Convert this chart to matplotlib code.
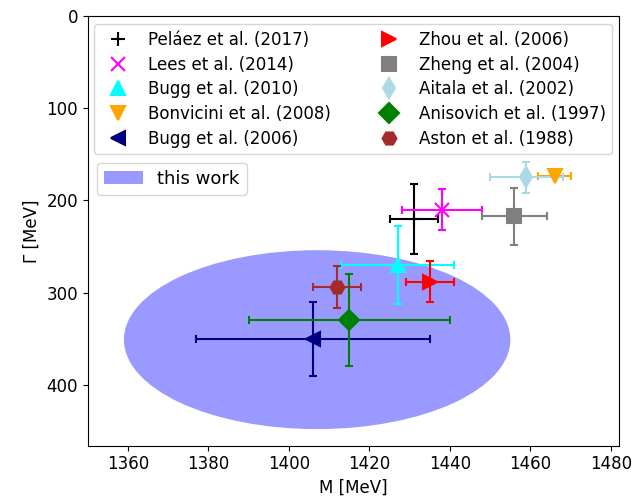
import matplotlib
matplotlib.use("Agg")
import matplotlib.pyplot as plt
from matplotlib.patches import Ellipse, Patch
from matplotlib.lines import Line2D

labels = ["Peláez et al. (2017)", "Lees et al. (2014)", "Bugg et al. (2010)",
          "Bonvicini et al. (2008)", "Bugg et al. (2006)", "Zhou et al. (2006)",
          "Zheng et al. (2004)", "Aitala et al. (2002)", "Anisovich et al. (1997)",
          "Aston et al. (1988)"]
mass = [1431, 1438, 1427, 1466, 1406, 1435, 1456, 1459, 1415, 1412]
mass_err = [6, 10, 14, 4, 29, 6, 8, 9, 25, 6]
width = [220, 210, 270, 174, 350, 288, 217, 175, 330, 294]
width_err = [38, 22, 42, 0, 40, 22, 31, 17, 50, 23]
markers = ["+", "x", "^", "v", "<", ">", "s", "d", "D", "H"]
colors = ["black", "magenta", "cyan", "orange", "navy", "red", "gray",
          "lightblue", "green", "brown"]

this_work_M = 1407
this_work_M_err = 48
this_work_G = 351
this_work_G_err = 97

fig = plt.figure(figsize=(6.42, 5.01), dpi=100)
ax = fig.add_axes([87.7/642, 1 - 445.7/501, (619 - 87.7)/642, (445.7 - 16)/501])

ell = Ellipse((this_work_M, this_work_G), 2*this_work_M_err, 2*this_work_G_err,
              facecolor="blue", alpha=0.4, edgecolor="none")
ax.add_patch(ell)

handles = []
for lab, m, me, g, ge, mk, c in zip(labels, mass, mass_err, width, width_err, markers, colors):
    ms = 10
    ax.errorbar(m, g, xerr=me, yerr=ge, fmt=mk, color=c, markersize=ms,
                capsize=3, elinewidth=1.5, capthick=1.5, markeredgewidth=1.5)
    handles.append(Line2D([], [], linestyle="none", marker=mk, color=c,
                          markersize=ms, markeredgewidth=1.5, label=lab))

ax.set_xlim(1350, 1482)
ax.set_ylim(466, 0)
ax.set_xticks([1360, 1380, 1400, 1420, 1440, 1460, 1480])
ax.set_yticks([0, 100, 200, 300, 400])
ax.tick_params(labelsize=12)
ax.set_xlabel("M [MeV]", fontsize=12)
ax.set_ylabel("Γ [MeV]", fontsize=12)

leg1 = ax.legend(handles=handles, ncol=2, loc="upper center", fontsize=12,
                 borderaxespad=0.5, labelspacing=0.4, columnspacing=2.5)
ax.add_artist(leg1)
leg2 = ax.legend(handles=[Patch(facecolor="blue", alpha=0.4, label="this work")],
                 loc="upper left", bbox_to_anchor=(0, 0.68), fontsize=13,
                 handlelength=2.15)

fig.savefig("out.png", dpi=100)
